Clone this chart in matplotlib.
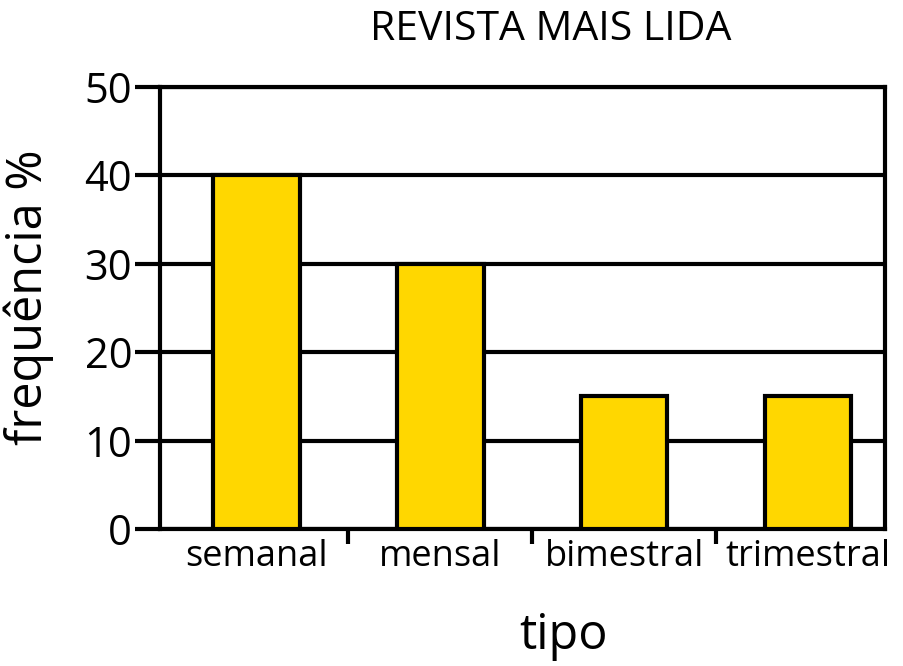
import matplotlib
matplotlib.use('Agg')
import matplotlib.pyplot as plt
from matplotlib.ticker import FixedLocator

plt.rcParams['font.family'] = ['Open Sans', 'DejaVu Sans']

# dados
tipos = ['semanal', 'mensal', 'bimestral', 'trimestral']
frequencia = [40, 30, 15, 15]
y_ticks = [0, 10, 20, 30, 40, 50]

fig = plt.figure(figsize=(9.04, 6.66), dpi=100)
ax = fig.add_axes([160 / 904, 1 - 529 / 666, 725 / 904, 442 / 666])

x = list(range(len(tipos)))
ax.bar(x, frequencia, width=0.47, color='#FFD700', edgecolor='black',
       linewidth=3.0, zorder=3)

ax.set_xlim(-0.524, 3.418)
ax.set_ylim(0, 50)

# grade horizontal
ax.set_yticks(y_ticks)
ax.yaxis.grid(True, color='black', linewidth=3.0, zorder=1)
ax.set_axisbelow(True)
ax.tick_params(axis='y', direction='out', length=18, width=3.0,
               labelsize=30, pad=2)

# rótulos das categorias e marcas entre elas
ax.set_xticks(x)
ax.set_xticklabels(tipos)
ax.xaxis.set_minor_locator(FixedLocator([0.5, 1.5, 2.5]))
ax.tick_params(axis='x', which='major', length=0, labelsize=26, pad=7)
ax.tick_params(axis='x', which='minor', direction='out', length=11,
               width=3.0)

for s in ax.spines.values():
    s.set_linewidth(3.0)

ax.set_ylabel('frequência %', fontsize=35)
ax.yaxis.set_label_coords(-0.181, 0.525)
ax.yaxis.label.set_va('center')
ax.set_xlabel('tipo', fontsize=35)
ax.xaxis.set_label_coords(0.557, -0.242)
ax.xaxis.label.set_va('center')

fig.text(551 / 904, 1 - 40 / 666, 'REVISTA MAIS LIDA', fontsize=29.5,
         ha='center', va='baseline')

fig.savefig('out.png', dpi=100)
